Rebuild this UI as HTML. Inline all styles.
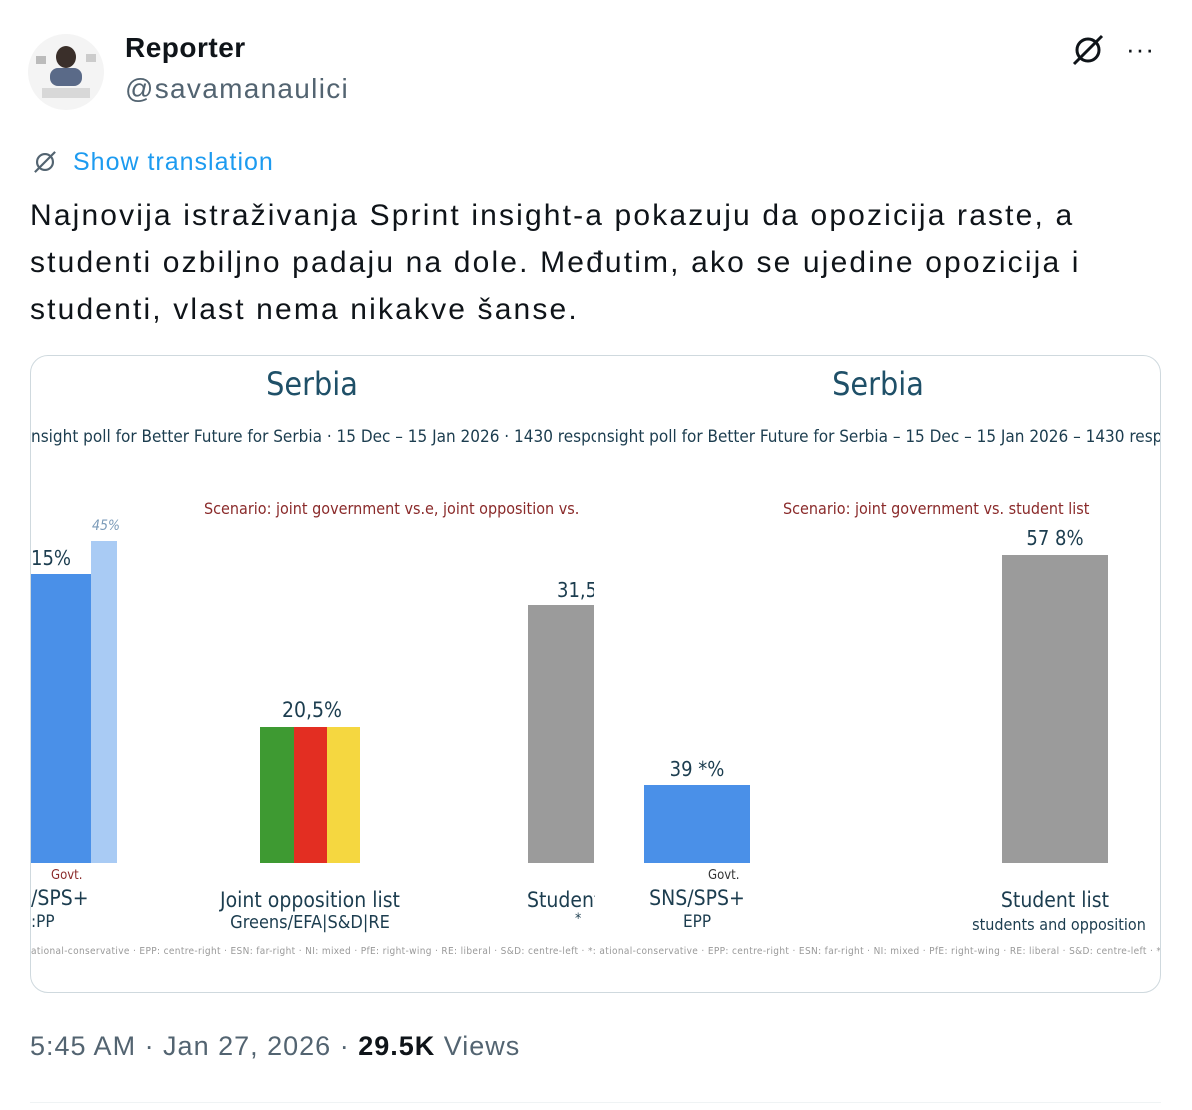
<!DOCTYPE html>
<html><head><meta charset="utf-8"><style>
*{margin:0;padding:0;box-sizing:border-box}
body{width:1192px;height:1110px;background:#fff;position:relative;overflow:hidden;font-family:"Liberation Sans",sans-serif}
.a{position:absolute;white-space:nowrap}
.c{font-family:"DejaVu Sans Condensed","Liberation Sans Narrow","Liberation Sans",sans-serif;color:#1c3d4f}
.ctr{transform:translateX(-50%)}
</style></head><body>
<div class="a" style="left:28px;top:34px;width:76px;height:76px;border-radius:50%;background:#f4f4f4;overflow:hidden">
 <div class="a" style="left:28px;top:12px;width:20px;height:22px;border-radius:50%;background:#3a2f2a"></div>
 <div class="a" style="left:22px;top:34px;width:32px;height:18px;border-radius:8px;background:#5a6a88"></div>
 <div class="a" style="left:8px;top:22px;width:10px;height:8px;background:#bbb"></div>
 <div class="a" style="left:58px;top:20px;width:10px;height:8px;background:#ccc"></div>
 <div class="a" style="left:14px;top:54px;width:48px;height:10px;background:#d8d8d8"></div>
</div>
<div class="a" style="left:125px;top:32px;font-size:28px;font-weight:bold;color:#0f1419;letter-spacing:0.5px">Reporter</div>
<div class="a" style="left:125px;top:73px;font-size:28px;color:#536471;letter-spacing:1.3px">@savamanaulici</div>
<svg class="a" style="left:1070px;top:32px" width="36" height="36" viewBox="0 0 36 36"><circle cx="18" cy="18" r="11" fill="none" stroke="#0f1419" stroke-width="3"/><line x1="4" y1="32" x2="32" y2="4" stroke="#0f1419" stroke-width="3"/></svg>
<div class="a" style="left:1126px;top:34px;font-size:26px;color:#0f1419;letter-spacing:1px">···</div>
<svg class="a" style="left:32px;top:149px" width="26" height="26" viewBox="0 0 36 36"><circle cx="18" cy="18" r="11" fill="none" stroke="#536471" stroke-width="3"/><line x1="4" y1="32" x2="32" y2="4" stroke="#536471" stroke-width="3"/></svg>
<div class="a" style="left:73px;top:148px;font-size:25px;color:#1d9bf0;letter-spacing:1px">Show translation</div>
<div class="a" style="left:30px;top:192px;font-size:30px;line-height:47px;color:#0f1419;letter-spacing:2.15px">Najnovija istraživanja Sprint insight-a pokazuju da opozicija raste, a<br>studenti ozbiljno padaju na dole. Međutim, ako se ujedine opozicija i<br>studenti, vlast nema nikakve šanse.</div>

<div class="a" style="left:30px;top:355px;width:1131px;height:638px;border:1px solid #cfd9de;border-radius:18px;overflow:hidden;background:#fff">
<div style="position:absolute;left:-30px;top:-355px;width:1192px;height:1110px">
 <div class="a c ctr" style="left:311px;top:364px;font-size:32px;color:#1f5068">Serbia</div>
 <div class="a c ctr" style="left:877px;top:364px;font-size:32px;color:#1f5068">Serbia</div>
 <div class="a c" style="left:30px;top:426px;font-size:17px;width:565px;overflow:hidden">nsight poll for Better Future for Serbia · 15 Dec – 15 Jan 2026 · 1430 respor</div>
 <div class="a c" style="left:596px;top:426px;font-size:17px">nsight poll for Better Future for Serbia – 15 Dec – 15 Jan 2026 – 1430 respo</div>
 <div class="a c" style="left:203px;top:498px;font-size:16px;color:#8a2a2a">Scenario: joint government vs.e, joint opposition vs.</div>
 <div class="a c" style="left:782px;top:498px;font-size:16px;color:#8a2a2a">Scenario: joint government vs. student list</div>
 <div class="a" style="left:90px;top:540px;width:26px;height:322px;background:#a9cbf4"></div>
 <div class="a" style="left:30px;top:573px;width:60px;height:289px;background:#4a90e8"></div>
 <div class="a c" style="left:30px;top:545px;font-size:20px">15%</div>
 <div class="a c" style="left:91px;top:517px;font-size:14px;font-style:italic;color:#7a9ab8">45%</div>
 <div class="a" style="left:259px;top:726px;width:34px;height:136px;background:#3e9a32"></div>
 <div class="a" style="left:293px;top:726px;width:33px;height:136px;background:#e32e22"></div>
 <div class="a" style="left:326px;top:726px;width:33px;height:136px;background:#f5d740"></div>
 <div class="a c ctr" style="left:311px;top:697px;font-size:21px">20,5%</div>
 <div class="a" style="left:527px;top:604px;width:66px;height:258px;background:#9b9b9b"></div>
 <div class="a c" style="left:556px;top:577px;font-size:20px;width:37px;overflow:hidden">31,5%</div>
 <div class="a c" style="left:50px;top:867px;font-size:13px;color:#8a2a2a">Govt.</div>
 <div class="a c" style="left:30px;top:885px;font-size:21px">/SPS+</div>
 <div class="a c" style="left:30px;top:911px;font-size:17px">:PP</div>
 <div class="a c ctr" style="left:309px;top:887px;font-size:21px">Joint opposition list</div>
 <div class="a c ctr" style="left:309px;top:911px;font-size:18px">Greens/EFA|S&amp;D|RE</div>
 <div class="a c" style="left:526px;top:887px;font-size:21px;width:68px;overflow:hidden">Student</div>
 <div class="a c" style="left:574px;top:910px;font-size:14px">*</div>
 <div class="a" style="left:643px;top:784px;width:106px;height:78px;background:#4a90e8"></div>
 <div class="a c ctr" style="left:696px;top:756px;font-size:20px">39 *%</div>
 <div class="a" style="left:1001px;top:554px;width:106px;height:308px;background:#9b9b9b"></div>
 <div class="a c ctr" style="left:1054px;top:525px;font-size:20px">57 8%</div>
 <div class="a c" style="left:707px;top:867px;font-size:13px;color:#333">Govt.</div>
 <div class="a c ctr" style="left:696px;top:885px;font-size:21px">SNS/SPS+</div>
 <div class="a c ctr" style="left:696px;top:911px;font-size:17px">EPP</div>
 <div class="a c ctr" style="left:1054px;top:887px;font-size:21px">Student list</div>
 <div class="a c ctr" style="left:1058px;top:914px;font-size:16px">students and opposition</div>
 <div class="a c" style="left:30px;top:945px;font-size:10px;color:#999;width:1130px;overflow:hidden;letter-spacing:0.35px">ational-conservative · EPP: centre-right · ESN: far-right · NI: mixed · PfE: right-wing · RE: liberal · S&amp;D: centre-left · *: ational-conservative · EPP: centre-right · ESN: far-right · NI: mixed · PfE: right-wing · RE: liberal · S&amp;D: centre-left · *: une</div>
</div></div>

<div class="a" style="left:30px;top:1031px;font-size:27px;color:#536471;letter-spacing:1px">5:45 AM · Jan 27, 2026 · <b style="color:#0f1419">29.5K</b> Views</div>
<div class="a" style="left:30px;top:1102px;width:1131px;height:1px;background:#eff3f4"></div>
</body></html>
